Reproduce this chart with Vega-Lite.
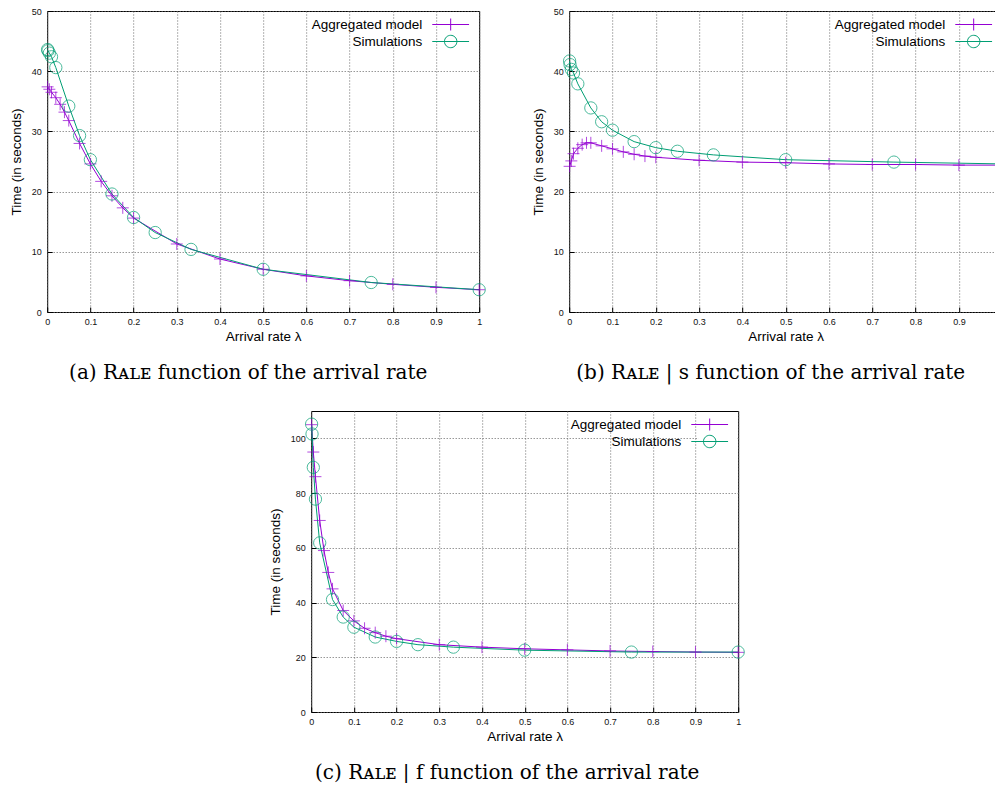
{
  "$schema": "https://vega.github.io/schema/vega-lite/v6.json",
  "padding": {"left": 8, "top": 6, "right": 0, "bottom": 0},
  "spacing": 27,
  "center": true,
  "resolve": {"scale": {"color": "independent"}, "legend": {"color": "independent"}},
  "config": {
    "font": "Liberation Sans",
    "view": {"stroke": "black", "strokeWidth": 1},
    "axis": {
      "domain": false, "tickSize": -5, "tickColor": "black", "tickWidth": 1,
      "labelFontSize": 9, "labelColor": "#111", "labelFont": "Liberation Sans",
      "labelFlush": false, "labelOverlap": false,
      "titleFont": "Liberation Sans", "titleFontSize": 13.5, "titleFontWeight": "normal", "titleColor": "black",
      "gridColor": "#666", "gridDash": [1, 2], "gridOpacity": 1, "gridWidth": 1
    },
    "axisX": {"labelPadding": 10, "titlePadding": 3},
    "axisY": {"labelPadding": 11, "titlePadding": 8},
    "title": {"font": "DejaVu Serif", "fontSize": 20, "fontWeight": "normal", "orient": "bottom", "anchor": "middle", "frame": "bounds", "offset": 20, "color": "black"},
    "legend": {
      "title": null, "orient": "top-right", "offset": 2, "padding": 3, "fillColor": "white",
      "labelFont": "Liberation Sans", "labelFontSize": 13.5, "labelColor": "black", "labelLimit": 300,
      "symbolSize": 256, "rowPadding": 0, "symbolStrokeWidth": 1
    }
  },
  "datasets": {
    "a": [
      {"x": 0.001, "t": 37.4, "series": "Aggregated model"},
      {"x": 0.005, "t": 37.0, "series": "Aggregated model"},
      {"x": 0.01, "t": 36.5, "series": "Aggregated model"},
      {"x": 0.02, "t": 35.6, "series": "Aggregated model"},
      {"x": 0.03, "t": 34.5, "series": "Aggregated model"},
      {"x": 0.04, "t": 33.2, "series": "Aggregated model"},
      {"x": 0.05, "t": 31.8, "series": "Aggregated model"},
      {"x": 0.075, "t": 28.0, "series": "Aggregated model"},
      {"x": 0.1, "t": 24.6, "series": "Aggregated model"},
      {"x": 0.125, "t": 21.7, "series": "Aggregated model"},
      {"x": 0.15, "t": 19.3, "series": "Aggregated model"},
      {"x": 0.175, "t": 17.3, "series": "Aggregated model"},
      {"x": 0.2, "t": 15.6, "series": "Aggregated model"},
      {"x": 0.3, "t": 11.3, "series": "Aggregated model"},
      {"x": 0.4, "t": 8.8, "series": "Aggregated model"},
      {"x": 0.5, "t": 7.1, "series": "Aggregated model"},
      {"x": 0.6, "t": 6.0, "series": "Aggregated model"},
      {"x": 0.7, "t": 5.2, "series": "Aggregated model"},
      {"x": 0.8, "t": 4.6, "series": "Aggregated model"},
      {"x": 0.9, "t": 4.1, "series": "Aggregated model"},
      {"x": 1.0, "t": 3.7, "series": "Aggregated model"},
      {"x": 0.001, "t": 43.6, "series": "Simulations"},
      {"x": 0.002, "t": 43.4, "series": "Simulations"},
      {"x": 0.005, "t": 43.0, "series": "Simulations"},
      {"x": 0.01, "t": 42.4, "series": "Simulations"},
      {"x": 0.02, "t": 40.6, "series": "Simulations"},
      {"x": 0.05, "t": 34.2, "series": "Simulations"},
      {"x": 0.075, "t": 29.3, "series": "Simulations"},
      {"x": 0.1, "t": 25.3, "series": "Simulations"},
      {"x": 0.15, "t": 19.6, "series": "Simulations"},
      {"x": 0.2, "t": 15.7, "series": "Simulations"},
      {"x": 0.25, "t": 13.2, "series": "Simulations"},
      {"x": 0.333, "t": 10.4, "series": "Simulations"},
      {"x": 0.5, "t": 7.1, "series": "Simulations"},
      {"x": 0.75, "t": 4.9, "series": "Simulations"},
      {"x": 1.0, "t": 3.7, "series": "Simulations"}
    ],
    "b": [
      {"x": 0.001, "t": 24.2, "series": "Aggregated model"},
      {"x": 0.005, "t": 25.1, "series": "Aggregated model"},
      {"x": 0.01, "t": 26.3, "series": "Aggregated model"},
      {"x": 0.02, "t": 27.2, "series": "Aggregated model"},
      {"x": 0.03, "t": 27.8, "series": "Aggregated model"},
      {"x": 0.04, "t": 28.1, "series": "Aggregated model"},
      {"x": 0.05, "t": 28.1, "series": "Aggregated model"},
      {"x": 0.075, "t": 27.6, "series": "Aggregated model"},
      {"x": 0.1, "t": 27.1, "series": "Aggregated model"},
      {"x": 0.125, "t": 26.6, "series": "Aggregated model"},
      {"x": 0.15, "t": 26.2, "series": "Aggregated model"},
      {"x": 0.175, "t": 25.9, "series": "Aggregated model"},
      {"x": 0.2, "t": 25.7, "series": "Aggregated model"},
      {"x": 0.3, "t": 25.2, "series": "Aggregated model"},
      {"x": 0.4, "t": 24.9, "series": "Aggregated model"},
      {"x": 0.5, "t": 24.8, "series": "Aggregated model"},
      {"x": 0.6, "t": 24.6, "series": "Aggregated model"},
      {"x": 0.7, "t": 24.5, "series": "Aggregated model"},
      {"x": 0.8, "t": 24.5, "series": "Aggregated model"},
      {"x": 0.9, "t": 24.4, "series": "Aggregated model"},
      {"x": 1.0, "t": 24.4, "series": "Aggregated model"},
      {"x": 0.001, "t": 41.7, "series": "Simulations"},
      {"x": 0.002, "t": 41.1, "series": "Simulations"},
      {"x": 0.005, "t": 40.3, "series": "Simulations"},
      {"x": 0.01, "t": 39.7, "series": "Simulations"},
      {"x": 0.02, "t": 37.9, "series": "Simulations"},
      {"x": 0.05, "t": 33.9, "series": "Simulations"},
      {"x": 0.075, "t": 31.6, "series": "Simulations"},
      {"x": 0.1, "t": 30.2, "series": "Simulations"},
      {"x": 0.15, "t": 28.3, "series": "Simulations"},
      {"x": 0.2, "t": 27.3, "series": "Simulations"},
      {"x": 0.25, "t": 26.7, "series": "Simulations"},
      {"x": 0.333, "t": 26.1, "series": "Simulations"},
      {"x": 0.5, "t": 25.3, "series": "Simulations"},
      {"x": 0.75, "t": 24.9, "series": "Simulations"},
      {"x": 1.0, "t": 24.6, "series": "Simulations"}
    ],
    "c": [
      {"x": 0.001, "t": 105.0, "series": "Aggregated model"},
      {"x": 0.005, "t": 95.0, "series": "Aggregated model"},
      {"x": 0.01, "t": 86.0, "series": "Aggregated model"},
      {"x": 0.02, "t": 70.0, "series": "Aggregated model"},
      {"x": 0.03, "t": 59.0, "series": "Aggregated model"},
      {"x": 0.04, "t": 51.0, "series": "Aggregated model"},
      {"x": 0.05, "t": 45.0, "series": "Aggregated model"},
      {"x": 0.075, "t": 37.1, "series": "Aggregated model"},
      {"x": 0.1, "t": 33.3, "series": "Aggregated model"},
      {"x": 0.125, "t": 30.6, "series": "Aggregated model"},
      {"x": 0.15, "t": 29.0, "series": "Aggregated model"},
      {"x": 0.175, "t": 27.7, "series": "Aggregated model"},
      {"x": 0.2, "t": 26.8, "series": "Aggregated model"},
      {"x": 0.3, "t": 24.6, "series": "Aggregated model"},
      {"x": 0.4, "t": 23.7, "series": "Aggregated model"},
      {"x": 0.5, "t": 23.1, "series": "Aggregated model"},
      {"x": 0.6, "t": 22.7, "series": "Aggregated model"},
      {"x": 0.7, "t": 22.3, "series": "Aggregated model"},
      {"x": 0.8, "t": 22.1, "series": "Aggregated model"},
      {"x": 0.9, "t": 21.9, "series": "Aggregated model"},
      {"x": 1.0, "t": 21.8, "series": "Aggregated model"},
      {"x": 0.001, "t": 105.2, "series": "Simulations"},
      {"x": 0.002, "t": 101.6, "series": "Simulations"},
      {"x": 0.005, "t": 89.4, "series": "Simulations"},
      {"x": 0.01, "t": 77.8, "series": "Simulations"},
      {"x": 0.02, "t": 61.8, "series": "Simulations"},
      {"x": 0.05, "t": 41.1, "series": "Simulations"},
      {"x": 0.075, "t": 34.7, "series": "Simulations"},
      {"x": 0.1, "t": 31.0, "series": "Simulations"},
      {"x": 0.15, "t": 27.4, "series": "Simulations"},
      {"x": 0.2, "t": 25.8, "series": "Simulations"},
      {"x": 0.25, "t": 24.6, "series": "Simulations"},
      {"x": 0.333, "t": 23.7, "series": "Simulations"},
      {"x": 0.5, "t": 22.6, "series": "Simulations"},
      {"x": 0.75, "t": 21.9, "series": "Simulations"},
      {"x": 1.0, "t": 21.9, "series": "Simulations"}
    ]
  },
  "vconcat": [
    {
      "spacing": 42,
      "resolve": {"scale": {"color": "independent"}, "legend": {"color": "independent"}},
      "hconcat": [
        {
          "width": 432, "height": 301,
          "data": {"name": "a"},
          "title": {"text": "(a)  Rᴀʟᴇ function of the arrival rate"},
          "layer": [
            {
              "mark": {"type": "line", "strokeWidth": 1},
              "encoding": {
                "x": {"field": "x", "type": "quantitative", "scale": {"domain": [0, 1]}, "axis": {"title": "Arrival rate λ", "format": "~f", "values": [0, 0.1, 0.2, 0.3, 0.4, 0.5, 0.6, 0.7, 0.8, 0.9, 1]}},
                "y": {"field": "t", "type": "quantitative", "scale": {"domain": [0, 50]}, "axis": {"title": "Time (in seconds)", "format": "~f", "values": [0, 10, 20, 30, 40, 50]}},
                "color": {"field": "series", "type": "nominal", "scale": {"domain": ["Aggregated model", "Simulations"], "range": ["#9400D3", "#009E73"]},
                  "legend": {"labelAlign": "right", "labelOffset": -37,
                    "encode": {"symbols": {"update": {"fill": {"value": "transparent"}, "strokeWidth": {"value": 1}, "opacity": {"value": 1}, "stroke": {"signal": "datum.value === 'Simulations' ? '#009E73' : '#9400D3'"}, "shape": {"signal": "datum.value === 'Simulations' ? 'M-2.3,0H2.3M-0.775,0A0.775,0.775 0 1 0 0.775,0A0.775,0.775 0 1 0 -0.775,0M2.6,0' : 'M-2.3,0H2.3M0,-0.75V0.75M2.6,0'"}}}}}}
              }
            },
            {
              "transform": [{"filter": "datum.series === 'Aggregated model'"}],
              "mark": {"type": "point", "filled": false, "strokeWidth": 1, "size": 144, "shape": "M-1,0H1M0,-1V1"},
              "encoding": {
                "x": {"field": "x", "type": "quantitative"},
                "y": {"field": "t", "type": "quantitative"},
                "color": {"field": "series", "type": "nominal", "legend": null}
              }
            },
            {
              "transform": [{"filter": "datum.series === 'Simulations'"}],
              "mark": {"type": "point", "filled": false, "strokeWidth": 1, "size": 151, "shape": "circle"},
              "encoding": {
                "x": {"field": "x", "type": "quantitative"},
                "y": {"field": "t", "type": "quantitative"},
                "color": {"field": "series", "type": "nominal", "legend": null}
              }
            }
          ]
        },
        {
          "width": 433, "height": 301,
          "data": {"name": "b"},
          "title": {"text": "(b)  Rᴀʟᴇ | s function of the arrival rate"},
          "layer": [
            {
              "mark": {"type": "line", "strokeWidth": 1},
              "encoding": {
                "x": {"field": "x", "type": "quantitative", "scale": {"domain": [0, 1]}, "axis": {"title": "Arrival rate λ", "format": "~f", "values": [0, 0.1, 0.2, 0.3, 0.4, 0.5, 0.6, 0.7, 0.8, 0.9]}},
                "y": {"field": "t", "type": "quantitative", "scale": {"domain": [0, 50]}, "axis": {"title": "Time (in seconds)", "format": "~f", "values": [0, 10, 20, 30, 40, 50]}},
                "color": {"field": "series", "type": "nominal", "scale": {"domain": ["Aggregated model", "Simulations"], "range": ["#9400D3", "#009E73"]},
                  "legend": {"labelAlign": "right", "labelOffset": -37,
                    "encode": {"symbols": {"update": {"fill": {"value": "transparent"}, "strokeWidth": {"value": 1}, "opacity": {"value": 1}, "stroke": {"signal": "datum.value === 'Simulations' ? '#009E73' : '#9400D3'"}, "shape": {"signal": "datum.value === 'Simulations' ? 'M-2.3,0H2.3M-0.775,0A0.775,0.775 0 1 0 0.775,0A0.775,0.775 0 1 0 -0.775,0M2.6,0' : 'M-2.3,0H2.3M0,-0.75V0.75M2.6,0'"}}}}}}
              }
            },
            {
              "transform": [{"filter": "datum.series === 'Aggregated model'"}],
              "mark": {"type": "point", "filled": false, "strokeWidth": 1, "size": 144, "shape": "M-1,0H1M0,-1V1"},
              "encoding": {
                "x": {"field": "x", "type": "quantitative"},
                "y": {"field": "t", "type": "quantitative"},
                "color": {"field": "series", "type": "nominal", "legend": null}
              }
            },
            {
              "transform": [{"filter": "datum.series === 'Simulations'"}],
              "mark": {"type": "point", "filled": false, "strokeWidth": 1, "size": 151, "shape": "circle"},
              "encoding": {
                "x": {"field": "x", "type": "quantitative"},
                "y": {"field": "t", "type": "quantitative"},
                "color": {"field": "series", "type": "nominal", "legend": null}
              }
            }
          ]
        }
      ]
    },
    {
      "width": 427, "height": 301,
      "data": {"name": "c"},
      "title": {"text": "(c)  Rᴀʟᴇ | f function of the arrival rate"},
      "layer": [
        {
          "mark": {"type": "line", "strokeWidth": 1},
          "encoding": {
            "x": {"field": "x", "type": "quantitative", "scale": {"domain": [0, 1]}, "axis": {"title": "Arrival rate λ", "format": "~f", "values": [0, 0.1, 0.2, 0.3, 0.4, 0.5, 0.6, 0.7, 0.8, 0.9, 1]}},
            "y": {"field": "t", "type": "quantitative", "scale": {"domain": [0, 110], "nice": false}, "axis": {"title": "Time (in seconds)", "format": "~f", "values": [0, 20, 40, 60, 80, 100]}},
            "color": {"field": "series", "type": "nominal", "scale": {"domain": ["Aggregated model", "Simulations"], "range": ["#9400D3", "#009E73"]},
              "legend": {"labelAlign": "right", "labelOffset": -37,
                "encode": {"symbols": {"update": {"fill": {"value": "transparent"}, "strokeWidth": {"value": 1}, "opacity": {"value": 1}, "stroke": {"signal": "datum.value === 'Simulations' ? '#009E73' : '#9400D3'"}, "shape": {"signal": "datum.value === 'Simulations' ? 'M-2.3,0H2.3M-0.775,0A0.775,0.775 0 1 0 0.775,0A0.775,0.775 0 1 0 -0.775,0M2.6,0' : 'M-2.3,0H2.3M0,-0.75V0.75M2.6,0'"}}}}}}
          }
        },
        {
          "transform": [{"filter": "datum.series === 'Aggregated model'"}],
          "mark": {"type": "point", "filled": false, "strokeWidth": 1, "size": 144, "shape": "M-1,0H1M0,-1V1"},
          "encoding": {
            "x": {"field": "x", "type": "quantitative"},
            "y": {"field": "t", "type": "quantitative"},
            "color": {"field": "series", "type": "nominal", "legend": null}
          }
        },
        {
          "transform": [{"filter": "datum.series === 'Simulations'"}],
          "mark": {"type": "point", "filled": false, "strokeWidth": 1, "size": 151, "shape": "circle"},
          "encoding": {
            "x": {"field": "x", "type": "quantitative"},
            "y": {"field": "t", "type": "quantitative"},
            "color": {"field": "series", "type": "nominal", "legend": null}
          }
        }
      ]
    }
  ]
}
